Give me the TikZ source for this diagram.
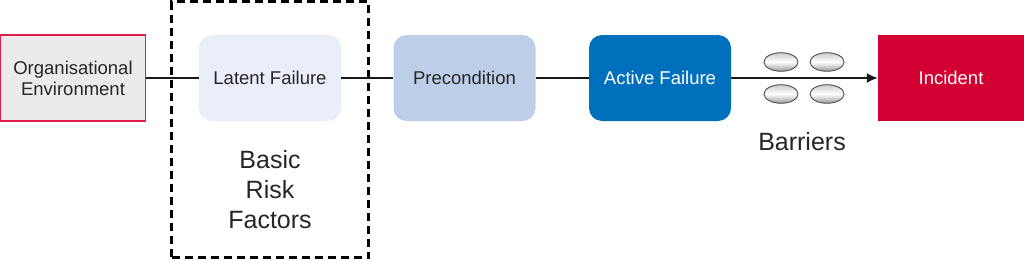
\documentclass[tikz,border=0pt]{standalone}
\usepackage{fontspec}
\setmainfont{Liberation Sans}
\usetikzlibrary{arrows.meta,shapes.geometric}
\definecolor{orgfill}{HTML}{EBEBEB}
\definecolor{orgborder}{HTML}{E0204A}
\definecolor{latfill}{HTML}{EBEEF8}
\definecolor{prefill}{HTML}{BDCFE8}
\definecolor{actfill}{HTML}{0070BC}
\definecolor{incfill}{HTML}{D20032}
\tikzset{
  box/.style={minimum width=142pt, minimum height=86pt, inner sep=0pt, align=center, font=\fontsize{18.5}{21}\selectfont, text=black!85},
  rbox/.style={box, rounded corners=13pt},
  conn/.style={draw=black!90, line width=1.7pt},
  barrier/.style={ellipse, draw=black!70, line width=0.9pt, minimum width=34pt, minimum height=18.5pt, inner sep=0pt, top color=black!20, bottom color=black!40, middle color=white},
  biglabel/.style={font=\fontsize{25}{30}\selectfont, align=center, text=black!85}
}
\begin{document}
\begin{tikzpicture}[x=1pt,y=-1pt]
\useasboundingbox[fill=white] (0,0) rectangle (1024,260);
\node[box, minimum width=145pt, fill=orgfill, draw=orgborder, line width=1.3pt] (org) at (73,78) {Organisational\\Environment};
\node[rbox, fill=latfill] (lat) at (270,78) {Latent Failure};
\node[rbox, fill=prefill] (pre) at (464.5,78) {Precondition};
\node[rbox, fill=actfill, text=white] (act) at (660,78) {Active Failure};
\node[box, minimum width=146pt, fill=incfill, text=white] (inc) at (951,78) {Incident};
\draw[conn] (org) -- (lat);
\draw[conn] (lat) -- (pre);
\draw[conn] (pre) -- (act);
\draw[conn, -{Latex[length=11pt,width=10pt]}] (act) -- (inc);
\node[draw=black, dash pattern=on 8pt off 5pt, line width=2.6pt, minimum width=197pt, minimum height=256pt, inner sep=0pt] (brf) at (270,129.5) {};
\node[biglabel] (brflabel) at (270,190) {Basic\\Risk\\Factors};
\node[barrier] (b1) at (781,62) {};
\node[barrier] (b2) at (827,62) {};
\node[barrier] (b3) at (781,94) {};
\node[barrier] (b4) at (827,94) {};
\node[biglabel] (barlabel) at (802,142) {Barriers};
\end{tikzpicture}
\end{document}
